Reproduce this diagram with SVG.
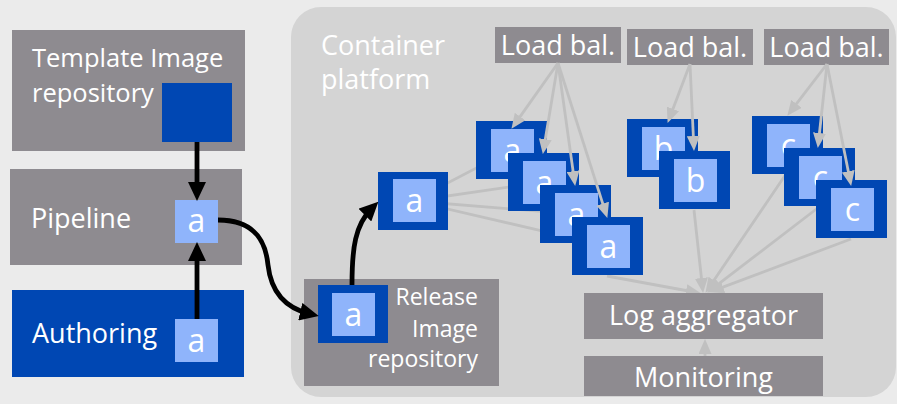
<svg xmlns="http://www.w3.org/2000/svg" width="897" height="404" viewBox="0 0 897 404">
  <style>
    text { font-family: "Open Sans", "Noto Sans", "Liberation Sans", sans-serif; fill: #ffffff; }
    .box { fill: #8e8b90; }
    .dark { fill: #0047b3; }
    .light { fill: #8fb4fb; }
    .lbl { font-size: 27px; }
    .tpl { font-size: 25.5px; }
    .small { font-size: 23px; }
    .ch { font-size: 32px; text-anchor: middle; }
    .mid { text-anchor: middle; }
    .end { text-anchor: end; }
    .flow { fill: none; stroke: #000000; stroke-width: 4.8; }
    .grey { fill: none; stroke: #c0c0c0; stroke-width: 2.8; }
  </style>
  <defs>
    <marker id="headBlack" markerUnits="userSpaceOnUse" markerWidth="19" markerHeight="18" refX="10" refY="9" orient="auto">
      <path d="M0,0 L19,9 L0,18 z" fill="#000000"/>
    </marker>
    <marker id="headGrey" markerUnits="userSpaceOnUse" markerWidth="15" markerHeight="13" refX="8" refY="6.5" orient="auto">
      <path d="M0,0 L15,6.5 L0,13 z" fill="#c0c0c0"/>
    </marker>
  </defs>

  <!-- backdrop -->
  <rect width="897" height="404" fill="#ebebeb"/>

  <!-- container platform -->
  <g id="container-platform">
    <rect x="291" y="7" width="605" height="390" rx="30" ry="30" fill="#d4d4d4"/>
    <text class="lbl" x="321" y="55">Container</text>
    <text class="lbl" x="321" y="89">platform</text>
  </g>

  <!-- links that run underneath the instances -->
  <g id="connectors-under">
    <path class="grey" d="M413,201 L511,150"/>
    <path class="grey" d="M413,201 L543,182"/>
    <path class="grey" d="M413,201 L575,214"/>
    <path class="grey" d="M413,201 L607,246"/>
    <path class="grey" d="M607,276 L694,292" marker-end="url(#headGrey)"/>
    <path class="grey" d="M694,210 L702.3,286" marker-end="url(#headGrey)"/>
    <path class="grey" d="M786,174 L709.4,287" marker-end="url(#headGrey)"/>
    <path class="grey" d="M819,207 L712.8,288.4" marker-end="url(#headGrey)"/>
    <path class="grey" d="M851,239 L715.6,289.9" marker-end="url(#headGrey)"/>
    <path class="grey" d="M705,356 L705,346" marker-end="url(#headGrey)"/>
  </g>

  <!-- left column -->
  <g id="template-repo">
    <rect class="box" x="12" y="30" width="233" height="121"/>
    <text class="tpl" x="32" y="67">Template Image</text>
    <text class="tpl" x="32" y="102">repository</text>
    <rect class="dark" x="162" y="83" width="70" height="59"/>
  </g>

  <g id="pipeline">
    <rect class="box" x="10" y="169" width="232" height="96"/>
    <text class="lbl" x="31" y="228">Pipeline</text>
    <rect class="light" x="175" y="200" width="43" height="43"/>
    <text class="ch" x="196.5" y="232">a</text>
  </g>

  <g id="authoring">
    <rect class="dark" x="12" y="290" width="232" height="87"/>
    <text class="lbl" x="32" y="343">Authoring</text>
    <rect class="light" x="175" y="319" width="43" height="43"/>
    <text class="ch" x="196.5" y="352">a</text>
  </g>

  <!-- release image repository -->
  <g id="release-repo">
    <rect class="box" x="304" y="279" width="195" height="107"/>
    <text class="small end" x="478" y="305">Release</text>
    <text class="small end" x="478" y="337">Image</text>
    <text class="small end" x="478" y="367">repository</text>
    <rect class="dark" x="318" y="285" width="70" height="58"/>
    <rect class="light" x="332" y="293" width="43" height="43"/>
    <text class="ch" x="353.5" y="326">a</text>
  </g>

  <!-- running instances -->
  <g id="instance-main">
    <rect class="dark" x="378" y="172" width="70" height="58"/>
    <rect class="light" x="393" y="179" width="43" height="43"/>
    <text class="ch" x="414.5" y="212">a</text>
  </g>

  <g id="instance-a1">
    <rect class="dark" x="476" y="121" width="71" height="58"/>
    <rect class="light" x="491" y="129" width="43" height="43"/>
    <text class="ch" x="512.5" y="162">a</text>
  </g>
  <g id="instance-a2">
    <rect class="dark" x="508" y="153" width="71" height="58"/>
    <rect class="light" x="523" y="161" width="43" height="43"/>
    <text class="ch" x="544.5" y="194">a</text>
  </g>
  <g id="instance-a3">
    <rect class="dark" x="540" y="185" width="71" height="58"/>
    <rect class="light" x="555" y="193" width="43" height="43"/>
    <text class="ch" x="576.5" y="226">a</text>
  </g>
  <g id="instance-a4">
    <rect class="dark" x="572" y="217" width="71" height="58"/>
    <rect class="light" x="587" y="225" width="43" height="43"/>
    <text class="ch" x="608.5" y="258">a</text>
  </g>

  <g id="instance-b1">
    <rect class="dark" x="627" y="119" width="71" height="58"/>
    <rect class="light" x="642" y="127" width="43" height="43"/>
    <text class="ch" x="663.5" y="160">b</text>
  </g>
  <g id="instance-b2">
    <rect class="dark" x="659" y="151" width="71" height="58"/>
    <rect class="light" x="674" y="159" width="43" height="43"/>
    <text class="ch" x="695.5" y="192">b</text>
  </g>

  <g id="instance-c1">
    <rect class="dark" x="752" y="116" width="71" height="58"/>
    <rect class="light" x="767" y="124" width="43" height="43"/>
    <text class="ch" x="788.5" y="157">c</text>
  </g>
  <g id="instance-c2">
    <rect class="dark" x="784" y="148" width="71" height="58"/>
    <rect class="light" x="799" y="156" width="43" height="43"/>
    <text class="ch" x="820.5" y="189">c</text>
  </g>
  <g id="instance-c3">
    <rect class="dark" x="816" y="180" width="71" height="58"/>
    <rect class="light" x="831" y="188" width="43" height="43"/>
    <text class="ch" x="852.5" y="221">c</text>
  </g>

  <!-- load balancers -->
  <g id="lb-a">
    <rect class="box" x="495" y="27" width="126" height="36"/>
    <text class="lbl mid" x="558" y="55">Load bal.</text>
  </g>
  <g id="lb-b">
    <rect class="box" x="627" y="29" width="126" height="36"/>
    <text class="lbl mid" x="690" y="57">Load bal.</text>
  </g>
  <g id="lb-c">
    <rect class="box" x="764" y="29" width="125" height="36"/>
    <text class="lbl mid" x="826.5" y="57">Load bal.</text>
  </g>

  <!-- logging -->
  <g id="log-aggregator">
    <rect class="box" x="584" y="293" width="239" height="46"/>
    <text class="lbl mid" x="703.5" y="325">Log aggregator</text>
  </g>
  <g id="monitoring">
    <rect class="box" x="584" y="356" width="239" height="40"/>
    <text class="lbl mid" x="703.5" y="387">Monitoring</text>
  </g>

  <!-- links drawn over the instances -->
  <g id="connectors">
    <path class="flow" d="M197,142 L197,192" marker-end="url(#headBlack)"/>
    <path class="flow" d="M197,319 L197,251" marker-end="url(#headBlack)"/>
    <path class="flow" d="M218,220 C258,220 266,245 268,265 C271,292 285,308 310,314" marker-end="url(#headBlack)"/>
    <path class="flow" d="M352,285 C352,248 355,225 372,208" marker-end="url(#headBlack)"/>

    <path class="grey" d="M558,63 L515.5,123.1" marker-end="url(#headGrey)"/>
    <path class="grey" d="M558,63 L544,147.1" marker-end="url(#headGrey)"/>
    <path class="grey" d="M558,63 L574.2,179.1" marker-end="url(#headGrey)"/>
    <path class="grey" d="M558,63 L605.2,211.3" marker-end="url(#headGrey)"/>

    <path class="grey" d="M690,64 L670.1,116.4" marker-end="url(#headGrey)"/>
    <path class="grey" d="M690,64 L693.7,144" marker-end="url(#headGrey)"/>

    <path class="grey" d="M827,64 L791.6,110.2" marker-end="url(#headGrey)"/>
    <path class="grey" d="M827,64 L818.6,141" marker-end="url(#headGrey)"/>
    <path class="grey" d="M827,64 L849.8,179.1" marker-end="url(#headGrey)"/>
  </g>
</svg>
